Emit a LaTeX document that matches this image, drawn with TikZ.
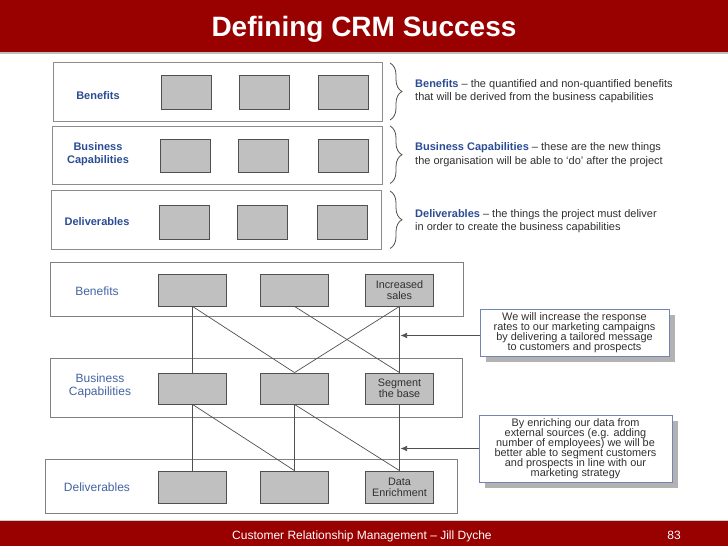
\documentclass[tikz,border=0pt]{standalone}
\usepackage{fontspec}
\setmainfont{Liberation Sans}
\usetikzlibrary{decorations.pathreplacing,shadows,arrows.meta}
\definecolor{hdr}{HTML}{990000}
\definecolor{lblue}{HTML}{2B4C94}
\definecolor{lblue2}{HTML}{4464A4}
\definecolor{boxfill}{HTML}{C0C0C0}
\definecolor{boxline}{HTML}{505050}
\definecolor{frame}{HTML}{8C8C8C}
\definecolor{txt}{HTML}{303030}
\definecolor{cline}{HTML}{7285B5}
\newcommand\mytight{\lineskiplimit=-6pt\relax}
\begin{document}
\begin{tikzpicture}[x=1pt,y=-1pt,
  band/.style={fill=hdr,draw=none},
  rowbox/.style={draw=frame,line width=0.9,fill=white,inner sep=0,anchor=north west},
  gbox/.style={draw=boxline,fill=boxfill,line width=0.8,inner sep=0,align=center,
     font=\fontsize{10.8}{11}\selectfont\mytight,text=txt},
  tgbox/.style={gbox,minimum width=50,minimum height=33.5},
  bgbox/.style={gbox,minimum width=67.5,minimum height=32},
  toplabel/.style={font=\fontsize{11}{13}\selectfont\bfseries,text=lblue,align=center},
  botlabel/.style={font=\fontsize{12}{13}\selectfont,text=lblue2,align=center},
  desc/.style={font=\fontsize{11}{13.5}\selectfont,text=txt,align=left,anchor=west,inner sep=0},
  brc/.style={draw=boxline,line width=0.8,decorate,decoration={brace,amplitude=12pt,aspect=0.5}},
  link/.style={draw=boxline,line width=0.7},
  callout/.style={draw=cline,line width=0.9,fill=white,align=center,inner sep=0,
     font=\fontsize{10.9}{10}\selectfont\mytight,text=txt,
     drop shadow={shadow xshift=6pt,shadow yshift=-6pt,fill=black!30,opacity=1}},
  arr/.style={draw=boxline,line width=0.7,-{Latex[length=6.5pt,width=5.5pt]}}
]
\useasboundingbox (0,0) rectangle (728,546);
\fill[white] (0,0) rectangle (728,546);
% header
\fill[band] (0,0) rectangle (728,52);
\fill[black!25] (0,52) rectangle (728,54);
\node[anchor=base,text=white,font=\fontsize{28}{30}\selectfont\bfseries,inner sep=0] (title) at (364,36.5) {Defining CRM Success};
% footer
\fill[black!20] (0,519.5) rectangle (728,521);
\fill[band] (0,521) rectangle (728,546);
\node[anchor=base west,text=white,font=\fontsize{12}{14}\selectfont,inner sep=0] (foot) at (232,539.5) {Customer Relationship Management – Jill Dyche};
\node[anchor=base,text=white,font=\fontsize{12}{14}\selectfont,inner sep=0] (pnum) at (674,539.5) {83};

% ---------- top section ----------
\node[rowbox,minimum width=329.5,minimum height=58.5] (tr1) at (52.5,62) {};
\node[rowbox,minimum width=330,minimum height=58.5] (tr2) at (52,125.5) {};
\node[rowbox,minimum width=330,minimum height=59] (tr3) at (51,190) {};
\node[toplabel] (tl1) at (98,96) {Benefits};
\node[toplabel] (tl2) at (98,154.5) {Business\\Capabilities};
\node[toplabel] (tl3) at (97,221.5) {Deliverables};
\foreach \i/\x in {1/186,2/264,3/343}{\node[tgbox] (ta\i) at (\x,92.5) {};}
\foreach \i/\x in {1/185,2/263,3/343}{\node[tgbox] (tb\i) at (\x,156) {};}
\foreach \i/\x in {1/184.5,2/262.5,3/342}{\node[tgbox] (tc\i) at (\x,222.5) {};}
% braces
\coordinate (br1a) at (390,63); \coordinate (br1b) at (390,120);
\coordinate (br2a) at (390,126); \coordinate (br2b) at (390,183.5);
\coordinate (br3a) at (390,191); \coordinate (br3b) at (390,248.5);
\draw[brc] (br1a) -- (br1b);
\draw[brc] (br2a) -- (br2b);
\draw[brc] (br3a) -- (br3b);
\node[desc] (d1) at (415,91) {\textcolor{lblue}{\textbf{Benefits}} – the quantified and non-quantified benefits\\that will be derived from the business capabilities};
\node[desc] (d2) at (415,154.5) {\textcolor{lblue}{\textbf{Business Capabilities}} – these are the new things\\the organisation will be able to ‘do’ after the project};
\node[desc] (d3) at (415,221) {\textcolor{lblue}{\textbf{Deliverables}} – the things the project must deliver\\in order to create the business capabilities};

% ---------- bottom section ----------
\node[rowbox,draw=black!50,minimum width=413,minimum height=54] (br1) at (50,262) {};
\node[rowbox,draw=black!50,minimum width=412,minimum height=59] (br2) at (50,358) {};
\node[rowbox,draw=black!50,minimum width=412,minimum height=54] (br3) at (45,459) {};
\node[botlabel] (bl1) at (97,291.5) {Benefits};
\node[botlabel] (bl2) at (100,385.5) {Business\\Capabilities};
\node[botlabel] (bl3) at (97,487) {Deliverables};
\node[bgbox] (b1) at (192.5,290) {};
\node[bgbox] (b2) at (294.5,290) {};
\node[bgbox] (b3) at (399.5,290) {Increased\\sales};
\node[bgbox,minimum height=31] (c1) at (192.5,388.5) {};
\node[bgbox,minimum height=31] (c2) at (294.5,388.5) {};
\node[bgbox,minimum height=31] (c3) at (399.5,388.5) {Segment\\the base};
\node[bgbox] (e1) at (192.5,487) {};
\node[bgbox] (e2) at (294.5,487) {};
\node[bgbox] (e3) at (399.5,487) {Data\\Enrichment};
\draw[link] (b1.south) -- (c1.north);
\draw[link] (b1.south) -- (c2.north);
\draw[link] (b2.south) -- (c3.north);
\draw[link] (b3.south) -- (c2.north);
\draw[link] (b3.south) -- (c3.north);
\draw[link] (c1.south) -- (e1.north);
\draw[link] (c1.south) -- (e2.north);
\draw[link] (c2.south) -- (e2.north);
\draw[link] (c2.south) -- (e3.north);
\draw[link] (c3.south) -- (e3.north);
% callouts
\node[callout,minimum width=189,minimum height=47] (k1) at (574.5,332.5) {We will increase the response\\rates to our marketing campaigns\\by delivering a tailored message\\to customers and prospects};
\node[callout,minimum width=193,minimum height=67] (k2) at (575.5,448.5) {By enriching our data from\\external sources (e.g. adding\\number of employees) we will be\\better able to segment customers\\and prospects in line with our\\marketing strategy};
\coordinate (a1) at (400.5,335.5);
\coordinate (a2) at (400.5,448.5);
\draw[arr] (k1.west |- a1) -- (a1);
\draw[arr] (k2.west |- a2) -- (a2);
\end{tikzpicture}
\end{document}
